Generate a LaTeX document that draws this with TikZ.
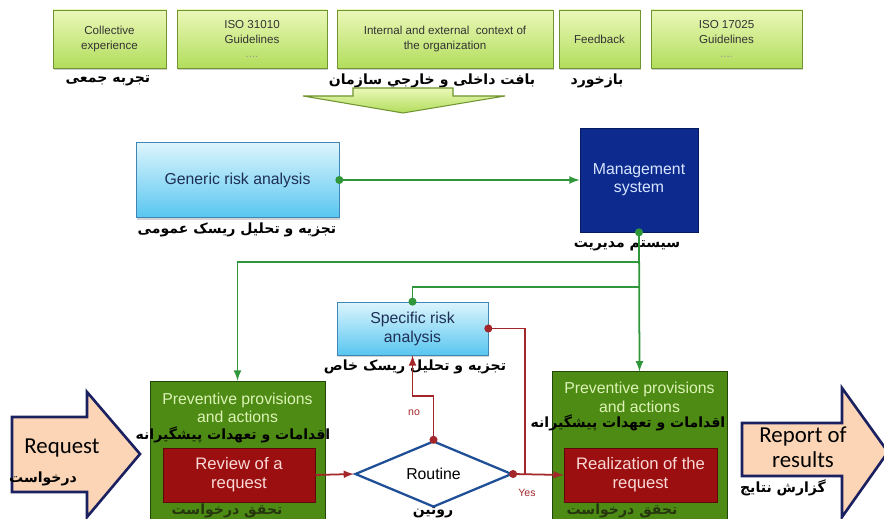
\documentclass[tikz,border=0pt]{standalone}
\usepackage{fontspec}
\setmainfont{Liberation Sans}
\newfontfamily\calib{Carlito}
\newfontfamily\fa[Script=Arabic]{DejaVu Sans}
\TeXXeTstate=1
\usetikzlibrary{shapes.geometric,shadows}
\newcommand{\fatext}[1]{{\fa\bfseries\beginR #1\endR}}

\definecolor{topA}{HTML}{EAF8B8}
\definecolor{topB}{HTML}{B2DD5C}
\definecolor{topline}{HTML}{6F9430}
\definecolor{dotgray}{HTML}{9A9A9A}
\definecolor{blueA}{HTML}{DDF5FD}
\definecolor{blueB}{HTML}{58C6F0}
\definecolor{blueline}{HTML}{3F86B5}
\definecolor{bluetext}{HTML}{1E2F55}
\definecolor{navy}{HTML}{0D2B8E}
\definecolor{navyline}{HTML}{071A5E}
\definecolor{mstext}{HTML}{D8E6FF}
\definecolor{lgreen}{HTML}{2F963A}
\definecolor{prevfill}{HTML}{4D8B15}
\definecolor{prevline}{HTML}{22450A}
\definecolor{prevtext}{HTML}{DDF3B5}
\definecolor{redfill}{HTML}{9B0F10}
\definecolor{redline}{HTML}{5E0909}
\definecolor{redtext}{HTML}{FAD9D6}
\definecolor{lred}{HTML}{A3262A}
\definecolor{dblue}{HTML}{1F4F97}
\definecolor{peach}{HTML}{FBD5B6}
\definecolor{arrowline}{HTML}{1B2160}
\definecolor{fadark}{HTML}{26360E}

\tikzstyle{top_box}=[rectangle,
                     minimum height=1.16cm,
                     draw=topline,
                     top color=topA,
                     bottom color=topB,
                     text=black!80,
                     align=center,
                     font=\fontsize{6.6}{8.4}\selectfont,
                     drop shadow={shadow xshift=0.6pt, shadow yshift=-1.2pt, opacity=0.4}]
\tikzstyle{blue_box}=[rectangle,
                      draw=blueline,
                      top color=blueA,
                      bottom color=blueB,
                      text=bluetext,
                      align=center,
                      font=\fontsize{9}{10.8}\selectfont,
                      drop shadow={shadow xshift=0.6pt, shadow yshift=-1.2pt, opacity=0.35}]
\tikzstyle{prev_box}=[rectangle,
                      draw=prevline,
                      fill=prevfill,
                      minimum width=3.5cm]
\tikzstyle{prev_text}=[align=center,
                       text=prevtext,
                       font=\fontsize{9}{10.5}\selectfont]
\tikzstyle{red_box}=[rectangle,
                     draw=redline,
                     fill=redfill,
                     text=redtext,
                     align=center,
                     minimum height=1.08cm,
                     font=\fontsize{9.5}{11}\selectfont]
\tikzstyle{decision}=[diamond,
                      draw=dblue,
                      line width=1.3pt,
                      fill=white,
                      inner sep=0pt,
                      minimum width=3.14cm,
                      minimum height=1.2cm,
                      font=\fontsize{9}{11}\selectfont]
\tikzstyle{fa_label}=[inner sep=1pt, font=\fontsize{8}{10}\selectfont]
\tikzstyle{fa_dark}=[inner sep=1pt, text=fadark, font=\fontsize{8}{10}\selectfont]
\tikzstyle{big_text}=[align=center, font=\calib\fontsize{13}{14}\selectfont]
\tikzstyle{small_red}=[text=lred, font=\fontsize{6}{7}\selectfont]
\tikzstyle{green_line}=[draw=lgreen, line width=1pt]
\tikzstyle{red_line}=[draw=lred, line width=1pt]
\tikzstyle{big_arrow}=[fill=peach, draw=arrowline, line width=1.5pt, line join=miter]

\begin{document}
\begin{tikzpicture}[x=0.02cm, y=-0.02cm]
    \useasboundingbox (0,0) rectangle (884,519);

    \foreach \i/\cx/\bw/\txt in {1/109.5/2.26/{Collective\\experience},
                                 2/252/3.0/{ISO 31010\\Guidelines\\{\color{dotgray}....}},
                                 3/445/4.32/{Internal and external~ context of\\the organization},
                                 4/599.5/1.62/{Feedback},
                                 5/726.5/3.02/{ISO 17025\\Guidelines\\{\color{dotgray}....}}} {
        \node at (\cx, 39) (TB\i) [top_box, minimum width=\bw cm] {\txt};
    }

    \node at (108, 81) (TL1) [fa_label] {\fatext{تجربه جمعی}};
    \node at (432, 81) (TL3) [fa_label] {\fatext{بافت داخلی و خارجي سازمان}};
    \node at (597, 81) (TL4) [fa_label] {\fatext{بازخورد}};

    \draw[draw=topline, top color=topA, bottom color=topB, line width=0.6pt]
        (353, 88) -- (453, 88) -- (453, 96) -- (505, 96) -- (403, 113)
        -- (303, 96) -- (353, 96) -- cycle;

    \node at (237.5, 180) (GRA) [blue_box, minimum width=4.06cm, minimum height=1.5cm] {Generic risk analysis};
    \node at (237, 230) (GRAl) [fa_label] {\fatext{تجزیه و تحلیل ریسک عمومی}};

    \node at (639, 180) (MS) [rectangle, draw=navyline, fill=navy, text=mstext, align=center,
                              minimum width=2.36cm, minimum height=2.08cm,
                              font=\fontsize{9}{10.2}\selectfont] {Management\\system};
    \node at (627, 246) (MSl) [fa_label] {\fatext{سیستم مدیریت}};

    \node at (412.5, 328.5) (SRA) [blue_box, minimum width=3.02cm, minimum height=1.06cm] {Specific risk\\analysis};
    \node at (415, 367) (SRAl) [fa_label] {\fatext{تجزیه و تحلیل ریسک خاص}};

    \node at (237.5, 456) (PP1) [prev_box, minimum height=3.0cm] {};
    \node at (639.5, 451.5) (PP2) [prev_box, minimum height=3.19cm] {};
    \node at (237.5, 408) (PP1t) [prev_text] {Preventive provisions\\and actions};
    \node at (639.5, 397.5) (PP2t) [prev_text] {Preventive provisions\\and actions};
    \node at (233, 435) (PP1l) [fa_label] {\fatext{اقدامات و تعهدات پیشگیرانه}};
    \node at (628, 423) (PP2l) [fa_label] {\fatext{اقدامات و تعهدات پیشگیرانه}};

    \node at (239, 475) (RV) [red_box, minimum width=3.04cm] {Review of a\\request};
    \node at (640.5, 475) (RZ) [red_box, minimum width=3.06cm] {Realization of the\\request};
    \node at (227, 511) (RVl) [fa_dark] {\fatext{تحقق درخواست}};
    \node at (622, 511) (RZl) [fa_dark] {\fatext{تحقق درخواست}};

    \node at (433.5, 474) (RT) [decision] {Routine};
    \node at (433, 513) (RTl) [fa_label] {\fatext{روتین}};

    \draw[big_arrow] (12, 417) -- (87, 417) -- (87, 392) -- (140, 454) -- (87, 517)
        -- (87, 492) -- (12, 492) -- cycle;
    \node at (62, 448) (RQ) [big_text] {Request};
    \node at (43, 479) (RQl) [fa_label] {\fatext{درخواست}};

    \draw[big_arrow] (742, 423) -- (842, 423) -- (842, 388) -- (888, 452) -- (842, 517)
        -- (842, 476) -- (742, 476) -- cycle;
    \node at (803, 447) (RP) [big_text] {Report of\\results};
    \node at (783, 488) (RPl) [fa_label] {\fatext{گزارش نتایج}};

    \coordinate (J1) at (MS.south |- 0, 262);
    \coordinate (J2) at (MS.south |- 0, 287);
    \coordinate (YJ) at (525, 474);

    \draw[green_line, -latex] (GRA.east) -- (MS.west);
    \draw[green_line, -latex] (MS.south) -- (PP2.north);
    \draw[green_line, -latex] (J1) -| (PP1.north);
    \draw[green_line] (SRA.north) |- (J2);

    \draw[red_line, -latex] (RV.east) -- (RT.west);
    \draw[red_line, -latex] (RT.north) -- ++(0, -44) -| (SRA.south);
    \draw[red_line] (SRA.east) -| (YJ);
    \draw[red_line, -latex] (RT.east) -- (RZ.west);
    \node at (414, 413) (NO) [small_red] {no};
    \node at (527, 493) (YES) [small_red] {Yes};

    \foreach \p in {GRA.east, MS.south, SRA.north} {
        \fill[lgreen] (\p) circle (2.3pt);
    }
    \foreach \p in {RT.north, RT.east, SRA.east} {
        \fill[lred] (\p) circle (2.3pt);
    }
\end{tikzpicture}
\end{document}
